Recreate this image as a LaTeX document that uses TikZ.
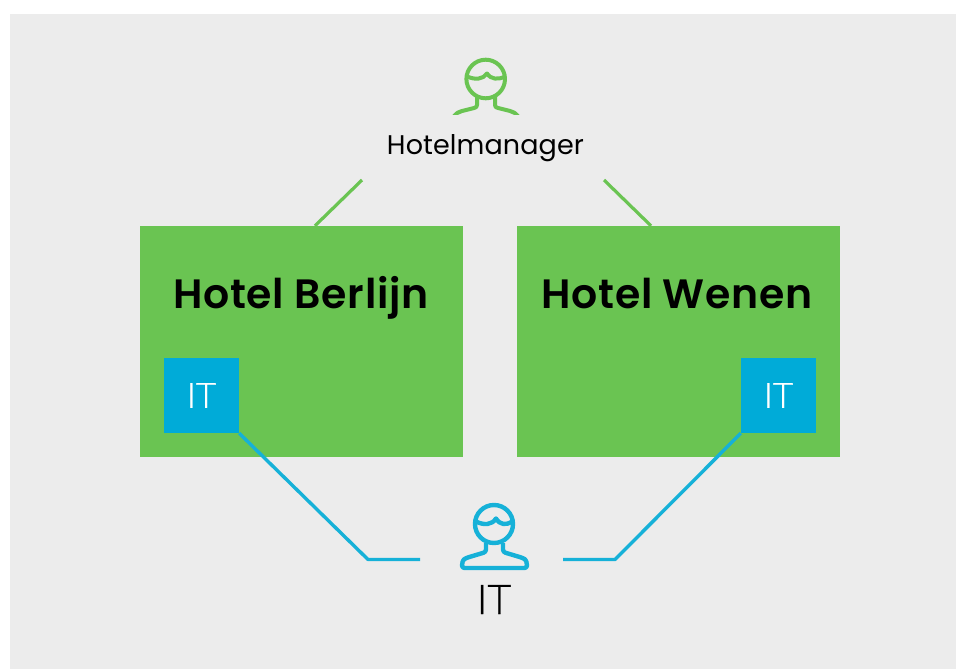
\documentclass[tikz,border=0pt]{standalone}
\usepackage{fontspec}
\setmainfont{Poppins}
\newfontfamily\lightfont[FakeBold=0.6]{Lato Light}
\newfontfamily\titlefont[LetterSpace=1.8]{Poppins SemiBold}
\newfontfamily\capfont[LetterSpace=0.4]{Poppins}
\definecolor{bggray}{HTML}{ECECEC}
\definecolor{hotelgreen}{HTML}{6AC452}
\definecolor{itblue}{HTML}{00ABD8}
\definecolor{linkblue}{HTML}{16B1D8}
\tikzset{
  x=1pt,y=-1pt,
  hotelbox/.style={fill=hotelgreen,draw=none,minimum width=323.5pt,minimum height=231pt,inner sep=0pt},
  itbox/.style={fill=itblue,draw=none,minimum width=75pt,minimum height=75pt,inner sep=0pt,text=white,font=\lightfont\fontsize{35}{35}\selectfont},
  hoteltitle/.style={font=\titlefont\fontsize{41}{41}\selectfont,text=black,inner sep=0pt,anchor=base},
  caption/.style={text=black,inner sep=0pt,anchor=base},
  greenline/.style={draw=hotelgreen,line width=3.2pt},
  blueline/.style={draw=linkblue,line width=3.4pt,line join=round},
  greenicon/.style={draw=hotelgreen,line width=4pt,line join=round},
  blueicon/.style={draw=linkblue,line width=4.4pt,line join=round}
}
\begin{document}
\begin{tikzpicture}
\useasboundingbox (0,0) rectangle (956,669);
\fill[bggray] (10,14) rectangle (956,669);
\node[hotelbox] (berlijn) at (301.25,341.5) {};
\node[hotelbox] (wenen) at (678.5,341.5) {};
\node[hoteltitle] (tb) at (301,308.5) {Hotel Berlijn};
\node[hoteltitle] (tw) at (677,308.5) {Hotel Wenen};
\node[itbox] (itl) at (201.5,395.5) {IT};
\node[itbox] (itr) at (778.5,395.5) {IT};
\node[caption,font=\capfont\fontsize{27}{27}\selectfont] (mgr) at (485.5,154) {Hotelmanager};
\node[caption,font=\lightfont\fontsize{41}{41}\selectfont] (itp) at (494,614) {IT};
% connectors
\coordinate (gl) at (362,180);
\coordinate (gr) at (604,180);
\coordinate (bl) at (420,559.5);
\coordinate (br) at (563,559.5);
\draw[greenline] (gl) -- (berlijn.north -| 315,0);
\draw[greenline] (gr) -- (wenen.north -| 651,0);
\draw[blueline] (itl.south east) -- (368,559.5) -- (bl);
\draw[blueline] (itr.south west) -- (615,559.5) -- (br);
% manager icon
\begin{scope}
\clip (440,50) rectangle (530,114.5);
\draw[greenicon] (485.7,79) circle (19.3);
\draw[greenicon] (467,76.5) .. controls (475,80) and (483,79.5) .. (487,73.5) .. controls (491,79.5) and (498,80) .. (505,76.5);
\draw[greenicon] (477,97) -- (477,105) .. controls (477,107) and (476,107.5) .. (474,108) -- (462,111) .. controls (459,112) and (456,113) .. (454,116);
\draw[greenicon] (495,97) -- (495,105) .. controls (495,107) and (496,107.5) .. (498,108) -- (510,111) .. controls (513,112) and (516,113) .. (518,116);
\end{scope}
% IT icon
\draw[blueicon] (494,524) circle (19);
\draw[blueicon] (476,521.5) .. controls (484,525.5) and (492,525) .. (496,518.5) .. controls (500,525) and (506,525.5) .. (512,521.5);
\draw[blueicon,rounded corners=2.5pt] (486,543) -- (486,552) -- (466,558) .. controls (463,560) and (462,563) .. (462,568) -- (527,568) .. controls (527,563) and (526,560) .. (523,558) -- (503,552) -- (503,543);
\end{tikzpicture}
\end{document}
